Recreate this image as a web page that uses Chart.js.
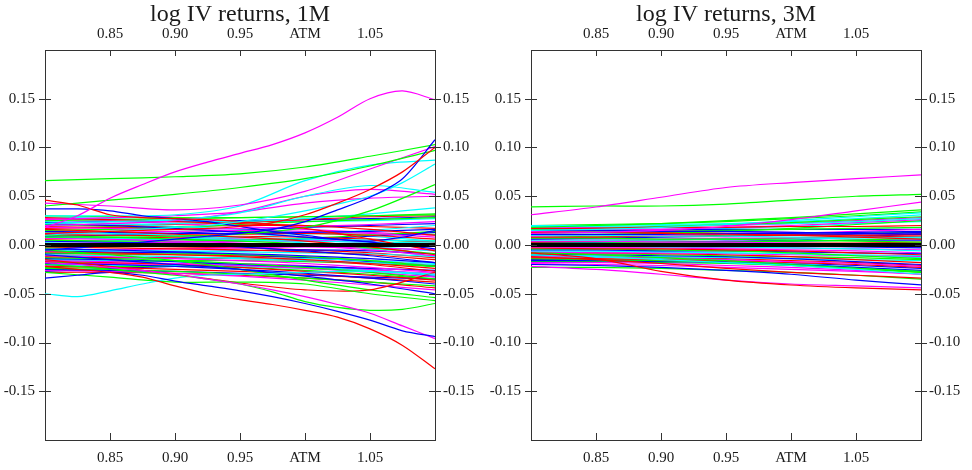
<!DOCTYPE html>
<html>
<head>
<meta charset="utf-8">
<script src="https://cdn.jsdelivr.net/npm/chart.js@4.4.1/dist/chart.umd.min.js"></script>
<style>
  html, body { margin: 0; padding: 0; background: #ffffff; }
  #wrap { display: flex; width: 972px; height: 470px; }
  canvas { display: block; }
</style>
</head>
<body>
<div id="wrap">
  <canvas id="c1" width="486" height="470"></canvas>
  <canvas id="c2" width="486" height="470"></canvas>
</div>
<script>
// ---------- data ----------
const moneyness7  = [0.80, 0.85, 0.90, 0.95, 1.00, 1.05, 1.10];
const moneyness13 = [0.800, 0.825, 0.850, 0.875, 0.900, 0.925, 0.950, 0.975, 1.000, 1.025, 1.050, 1.075, 1.100];
const xTickValues = [0.85, 0.90, 0.95, 1.00, 1.05];
const xTickLabels = ['0.85', '0.90', '0.95', 'ATM', '1.05'];
const yTickValues = [-0.15, -0.10, -0.05, 0.00, 0.05, 0.10, 0.15];
const zeroLine = [0, 0, 0, 0, 0, 0, 0];
const titles = ['log IV returns, 1M', 'log IV returns, 3M'];

// 1M log IV returns per moneyness (13-point series use moneyness13, 7-point use moneyness7)
const returns1M = [
  [0.018, 0.030, 0.048, 0.062, 0.075, 0.085, 0.094, 0.103, 0.115, 0.131, 0.150, 0.158, 0.149],
  [0.012, 0.013, 0.014, 0.015, 0.016, 0.017, 0.019, 0.023, 0.031, 0.043, 0.057, 0.075, 0.100],
  [-0.005, -0.003, 0.000, 0.003, 0.006, 0.009, 0.012, 0.016, 0.024, 0.036, 0.049, 0.068, 0.108],
  [0.010, 0.012, 0.014, 0.016, 0.018, 0.020, 0.024, 0.029, 0.035, 0.042, 0.050, 0.064, 0.083],
  [0.046, 0.041, 0.031, 0.028, 0.027, 0.026, 0.024, 0.021, 0.017, 0.012, 0.006, 0.000, -0.006],
  [0.037, 0.037, 0.035, 0.030, 0.027, 0.024, 0.019, 0.014, 0.010, 0.006, 0.004, 0.008, 0.015],
  [-0.022, -0.025, -0.028, -0.033, -0.042, -0.050, -0.056, -0.061, -0.067, -0.074, -0.086, -0.103, -0.127],
  [-0.034, -0.031, -0.028, -0.031, -0.037, -0.042, -0.047, -0.053, -0.060, -0.068, -0.077, -0.088, -0.094],
  [-0.018, -0.020, -0.023, -0.026, -0.030, -0.035, -0.040, -0.046, -0.053, -0.061, -0.070, -0.083, -0.096],
  [-0.020, -0.022, -0.025, -0.028, -0.031, -0.035, -0.040, -0.048, -0.058, -0.064, -0.067, -0.066, -0.060],
  [-0.050, -0.053, -0.047, -0.040, -0.034, -0.031, -0.030, -0.029, -0.028, -0.027, -0.027, -0.028, -0.030],
  [0.066, 0.068, 0.070, 0.073, 0.080, 0.091, 0.103],
  [0.040, 0.046, 0.052, 0.059, 0.068, 0.081, 0.097],
  [0.043, 0.040, 0.036, 0.041, 0.055, 0.078, 0.101],
  [0.030, 0.030, 0.031, 0.040, 0.066, 0.082, 0.087],
  [0.022, 0.024, 0.026, 0.033, 0.050, 0.061, 0.054],
  [0.008, 0.008, 0.009, 0.011, 0.018, 0.035, 0.062],
  [0.026, 0.028, 0.030, 0.034, 0.043, 0.048, 0.050],
  [0.020, 0.022, 0.025, 0.034, 0.050, 0.057, 0.052],
  [-0.028, -0.033, -0.038, -0.038, -0.040, -0.050, -0.057],
  [-0.015, -0.022, -0.030, -0.039, -0.046, -0.046, -0.028],
  [-0.010, -0.015, -0.020, -0.025, -0.032, -0.040, -0.050],
  [-0.005, -0.010, -0.016, -0.025, -0.036, -0.046, -0.054],
  [0.028, 0.026, 0.024, 0.022, 0.020, 0.016, 0.010],
  [0.025, 0.026, 0.027, 0.028, 0.029, 0.030, 0.031],
  [0.022, 0.020, 0.017, 0.013, 0.008, 0.003, -0.004],
  [0.020, 0.021, 0.022, 0.024, 0.027, 0.032, 0.038],
  [0.018, 0.017, 0.016, 0.017, 0.019, 0.021, 0.024],
  [0.016, 0.014, 0.011, 0.008, 0.004, -0.002, -0.010],
  [0.015, 0.016, 0.018, 0.021, 0.024, 0.026, 0.028],
  [0.014, 0.013, 0.012, 0.012, 0.013, 0.014, 0.016],
  [0.013, 0.012, 0.010, 0.008, 0.006, 0.005, 0.004],
  [0.012, 0.013, 0.014, 0.015, 0.014, 0.012, 0.008],
  [0.011, 0.010, 0.010, 0.011, 0.012, 0.010, 0.006],
  [0.010, 0.008, 0.006, 0.004, 0.001, -0.003, -0.009],
  [0.009, 0.010, 0.012, 0.015, 0.018, 0.020, 0.022],
  [0.008, 0.007, 0.006, 0.005, 0.004, 0.003, 0.002],
  [0.007, 0.006, 0.004, 0.002, -0.001, -0.005, -0.011],
  [0.006, 0.007, 0.008, 0.009, 0.008, 0.006, 0.003],
  [0.005, 0.004, 0.004, 0.005, 0.007, 0.010, 0.014],
  [0.004, 0.003, 0.001, -0.002, -0.006, -0.011, -0.018],
  [0.003, 0.004, 0.006, 0.008, 0.011, 0.015, 0.020],
  [0.002, 0.002, 0.003, 0.004, 0.004, 0.003, 0.001],
  [-0.002, -0.003, -0.004, -0.005, -0.007, -0.010, -0.015],
  [-0.003, -0.002, -0.001, 0.000, 0.001, 0.002, 0.004],
  [-0.004, -0.005, -0.007, -0.009, -0.011, -0.014, -0.018],
  [-0.005, -0.006, -0.006, -0.007, -0.008, -0.009, -0.012],
  [-0.006, -0.005, -0.004, -0.003, -0.002, -0.003, -0.005],
  [-0.007, -0.008, -0.010, -0.012, -0.015, -0.019, -0.024],
  [-0.008, -0.009, -0.009, -0.010, -0.012, -0.016, -0.022],
  [-0.009, -0.008, -0.007, -0.006, -0.005, -0.006, -0.009],
  [-0.010, -0.011, -0.012, -0.014, -0.016, -0.018, -0.020],
  [-0.011, -0.012, -0.014, -0.016, -0.019, -0.023, -0.028],
  [-0.012, -0.013, -0.013, -0.014, -0.016, -0.020, -0.027],
  [-0.013, -0.014, -0.016, -0.019, -0.023, -0.028, -0.035],
  [-0.014, -0.015, -0.017, -0.020, -0.022, -0.024, -0.026],
  [-0.015, -0.014, -0.013, -0.013, -0.014, -0.016, -0.019],
  [-0.016, -0.017, -0.019, -0.021, -0.024, -0.028, -0.033],
  [-0.017, -0.018, -0.020, -0.023, -0.027, -0.031, -0.036],
  [-0.018, -0.017, -0.016, -0.016, -0.017, -0.019, -0.022],
  [-0.019, -0.020, -0.022, -0.025, -0.029, -0.034, -0.040],
  [-0.020, -0.021, -0.021, -0.022, -0.024, -0.027, -0.031],
  [-0.021, -0.020, -0.019, -0.019, -0.021, -0.025, -0.031],
  [-0.022, -0.023, -0.025, -0.027, -0.030, -0.034, -0.038],
  [-0.024, -0.025, -0.027, -0.030, -0.034, -0.038, -0.042],
  [-0.025, -0.026, -0.027, -0.029, -0.031, -0.033, -0.035],
  [-0.026, -0.027, -0.029, -0.032, -0.036, -0.041, -0.046],
  [0.000, -0.001, -0.002, -0.003, -0.005, -0.008, -0.013],
  [0.001, 0.002, 0.003, 0.004, 0.006, 0.009, 0.013],
  [0.024, 0.022, 0.019, 0.016, 0.013, 0.009, 0.004],
  [0.027, 0.025, 0.022, 0.019, 0.016, 0.013, 0.010],
  [0.019, 0.020, 0.021, 0.023, 0.026, 0.029, 0.030],
  [0.030, 0.029, 0.028, 0.028, 0.029, 0.030, 0.032],
  [0.029, 0.027, 0.025, 0.024, 0.024, 0.025, 0.027],
  [0.017, 0.018, 0.019, 0.020, 0.020, 0.019, 0.017],
  [0.021, 0.019, 0.016, 0.014, 0.012, 0.011, 0.011],
  [0.004, 0.005, 0.006, 0.006, 0.005, 0.003, -0.001],
  [-0.001, 0.000, 0.001, 0.001, 0.000, -0.002, -0.006],
  [-0.006, -0.007, -0.008, -0.010, -0.013, -0.017, -0.022],
  [-0.011, -0.010, -0.010, -0.011, -0.013, -0.016, -0.021],
  [-0.016, -0.016, -0.017, -0.019, -0.022, -0.026, -0.030],
  [-0.023, -0.022, -0.022, -0.023, -0.026, -0.030, -0.035],
  [-0.028, -0.028, -0.029, -0.031, -0.034, -0.038, -0.044],
  [0.023, 0.024, 0.024, 0.025, 0.026, 0.027, 0.029],
  [0.012, 0.011, 0.009, 0.006, 0.002, -0.004, -0.012],
  [-0.019, -0.019, -0.020, -0.021, -0.023, -0.026, -0.029],
  [-0.027, -0.024, -0.022, -0.021, -0.022, -0.025, -0.032]
];
const colors1M = [
  'm','r','b','c','r','b','r','b','m','g','c',
  'g','g','m','c','c','g','m','m','g','r','b','g',
  'r','g','b','c','m','r','g','b','c','m','r','g','b','c','m','r','g','b','c','m',
  'r','g','b','c','m','r','g','b','c','m','r','g','b','c','m','r','g','b','c','m',
  'r','g','b','m','r','b','c','m','r','g',
  'c','r','g','m','c','b','r','c','g','r','b','c','m','b'
];

// 3M log IV returns per moneyness (moneyness7)
const returns3M = [
  [0.031, 0.039, 0.049, 0.059, 0.064, 0.068, 0.072],
  [0.039, 0.040, 0.040, 0.042, 0.046, 0.050, 0.052],
  [0.012, 0.013, 0.015, 0.019, 0.026, 0.035, 0.044],
  [0.018, 0.020, 0.022, 0.025, 0.028, 0.032, 0.036],
  [0.015, 0.016, 0.018, 0.021, 0.025, 0.029, 0.033],
  [-0.008, -0.014, -0.027, -0.036, -0.041, -0.044, -0.046],
  [-0.022, -0.025, -0.030, -0.036, -0.040, -0.042, -0.044],
  [-0.020, -0.021, -0.023, -0.026, -0.030, -0.036, -0.041],
  [-0.012, -0.015, -0.019, -0.024, -0.028, -0.031, -0.034],
  [-0.010, -0.012, -0.015, -0.018, -0.021, -0.025, -0.030],
  [-0.008, -0.010, -0.013, -0.016, -0.020, -0.024, -0.028],
  [0.017, 0.017, 0.018, 0.018, 0.019, 0.019, 0.020],
  [0.016, 0.017, 0.019, 0.021, 0.023, 0.026, 0.029],
  [0.015, 0.015, 0.014, 0.014, 0.013, 0.012, 0.011],
  [0.019, 0.019, 0.020, 0.021, 0.022, 0.024, 0.027],
  [0.014, 0.015, 0.016, 0.018, 0.020, 0.023, 0.026],
  [0.013, 0.013, 0.012, 0.011, 0.010, 0.008, 0.006],
  [0.012, 0.013, 0.014, 0.015, 0.016, 0.017, 0.018],
  [0.011, 0.011, 0.011, 0.012, 0.012, 0.013, 0.014],
  [0.010, 0.010, 0.009, 0.009, 0.008, 0.008, 0.007],
  [0.009, 0.010, 0.010, 0.011, 0.012, 0.014, 0.016],
  [0.008, 0.008, 0.009, 0.009, 0.010, 0.010, 0.011],
  [0.007, 0.007, 0.006, 0.006, 0.005, 0.004, 0.003],
  [0.006, 0.007, 0.008, 0.009, 0.010, 0.011, 0.013],
  [0.005, 0.005, 0.005, 0.006, 0.006, 0.007, 0.008],
  [0.004, 0.004, 0.003, 0.003, 0.002, 0.001, 0.000],
  [0.003, 0.004, 0.005, 0.006, 0.007, 0.008, 0.009],
  [0.002, 0.002, 0.003, 0.003, 0.004, 0.005, 0.007],
  [0.001, 0.001, 0.000, 0.000, -0.001, -0.002, -0.003],
  [-0.001, -0.001, -0.002, -0.002, -0.003, -0.004, -0.006],
  [-0.002, -0.002, -0.002, -0.003, -0.003, -0.004, -0.005],
  [-0.003, -0.004, -0.004, -0.005, -0.006, -0.008, -0.010],
  [-0.004, -0.004, -0.005, -0.006, -0.008, -0.011, -0.014],
  [-0.005, -0.005, -0.006, -0.006, -0.007, -0.008, -0.009],
  [-0.006, -0.006, -0.007, -0.008, -0.009, -0.011, -0.013],
  [-0.007, -0.008, -0.008, -0.009, -0.010, -0.011, -0.012],
  [-0.008, -0.008, -0.009, -0.010, -0.012, -0.015, -0.018],
  [-0.009, -0.009, -0.010, -0.011, -0.012, -0.013, -0.015],
  [-0.010, -0.010, -0.011, -0.012, -0.014, -0.017, -0.020],
  [-0.011, -0.011, -0.012, -0.013, -0.014, -0.015, -0.016],
  [-0.012, -0.012, -0.013, -0.015, -0.017, -0.019, -0.022],
  [-0.013, -0.014, -0.015, -0.016, -0.018, -0.020, -0.023],
  [-0.014, -0.015, -0.016, -0.018, -0.021, -0.024, -0.027],
  [-0.016, -0.016, -0.017, -0.018, -0.020, -0.023, -0.026],
  [-0.018, -0.018, -0.019, -0.021, -0.023, -0.026, -0.030],
  [0.000, 0.000, 0.001, 0.001, 0.002, 0.002, 0.003],
  [0.002, 0.002, 0.001, 0.001, 0.000, -0.001, -0.002],
  [0.020, 0.020, 0.021, 0.022, 0.024, 0.027, 0.031],
  [0.017, 0.016, 0.015, 0.014, 0.013, 0.012, 0.011],
  [0.010, 0.011, 0.012, 0.014, 0.017, 0.021, 0.025],
  [-0.001, 0.000, 0.001, 0.003, 0.005, 0.008, 0.012],
  [0.014, 0.013, 0.013, 0.012, 0.011, 0.010, 0.009],
  [-0.013, -0.013, -0.014, -0.016, -0.019, -0.023, -0.027],
  [-0.017, -0.017, -0.018, -0.019, -0.021, -0.024, -0.028],
  [0.006, 0.006, 0.006, 0.007, 0.007, 0.008, 0.009],
  [0.016, 0.016, 0.016, 0.016, 0.016, 0.016, 0.016],
  [0.018, 0.018, 0.019, 0.020, 0.022, 0.025, 0.028],
  [0.013, 0.014, 0.015, 0.017, 0.019, 0.022, 0.024],
  [0.008, 0.009, 0.009, 0.010, 0.011, 0.012, 0.013],
  [0.003, 0.003, 0.003, 0.004, 0.004, 0.005, 0.005],
  [-0.003, -0.003, -0.003, -0.004, -0.005, -0.006, -0.008],
  [-0.007, -0.007, -0.007, -0.008, -0.009, -0.010, -0.011],
  [-0.011, -0.012, -0.013, -0.014, -0.016, -0.018, -0.021],
  [-0.015, -0.015, -0.016, -0.017, -0.019, -0.021, -0.024],
  [-0.019, -0.020, -0.021, -0.023, -0.025, -0.027, -0.030],
  [-0.023, -0.023, -0.024, -0.026, -0.028, -0.031, -0.035],
  [0.020, 0.021, 0.022, 0.024, 0.027, 0.030, 0.034]
];
const colors3M = [
  'm','g','m','g','c','r','m','b','r','c','g',
  'r','g','b','c','m','r','g','b','c','m','r','g','b','c','m','r','g','b','c','m',
  'r','g','b','c','m','r','g','b','c','m','r','g','b','m',
  'r','b','c','m','g','b','r','c','g','m','b',
  'm','c','g','b','m','c','r','b','m','g','g'
];

// ---------- styling ----------
const palette = { r: '#ff0000', g: '#00ff00', b: '#0000ff', c: '#00ffff', m: '#ff00ff' };
const FONT = "'Liberation Serif', 'Times New Roman', serif";
const AXIS_COLOR = '#333333';
const TEXT_COLOR = '#1a1a1a';

const tickMarks = {
  id: 'tickMarks',
  afterDraw(chart) {
    const ctx = chart.ctx;
    const xs = chart.scales.x, ys = chart.scales.y;
    const a = chart.chartArea;
    ctx.save();
    ctx.strokeStyle = AXIS_COLOR;
    ctx.lineWidth = 1;
    ctx.beginPath();
    xs.ticks.forEach(t => {
      const px = Math.round(xs.getPixelForValue(t.value)) + 0.5;
      ctx.moveTo(px, a.top); ctx.lineTo(px, a.top + 6);
      ctx.moveTo(px, a.bottom); ctx.lineTo(px, a.bottom - 7);
    });
    ys.ticks.forEach(t => {
      const py = Math.round(ys.getPixelForValue(t.value)) + 0.5;
      ctx.moveTo(a.left - 6, py); ctx.lineTo(a.left + 6, py);
      ctx.moveTo(a.right - 6, py); ctx.lineTo(a.right + 6, py);
    });
    ctx.stroke();
    ctx.restore();
  }
};

function xAxis(position, height, padding) {
  return {
    type: 'linear', position, min: 0.80, max: 1.10,
    grid: { display: false, drawTicks: false },
    border: { display: true, color: AXIS_COLOR, width: 1 },
    afterBuildTicks: s => { s.ticks = xTickValues.map(v => ({ value: v })); },
    afterFit: s => { s.height = height; },
    ticks: {
      autoSkip: false, maxRotation: 0, padding,
      font: { family: FONT, size: 15, lineHeight: 1 }, color: TEXT_COLOR,
      callback: v => { const i = xTickValues.findIndex(t => Math.abs(t - v) < 1e-9); return i >= 0 ? xTickLabels[i] : ''; }
    }
  };
}
function yAxis(position, width, padding) {
  return {
    type: 'linear', position, min: -0.20, max: 0.20,
    grid: { display: false, drawTicks: false },
    border: { display: true, color: AXIS_COLOR, width: 1 },
    afterBuildTicks: s => { s.ticks = yTickValues.map(v => ({ value: v })); },
    afterFit: s => { s.width = width; },
    ticks: {
      autoSkip: false, padding,
      font: { family: FONT, size: 15, lineHeight: 1 }, color: TEXT_COLOR,
      callback: v => Number(v).toFixed(2)
    }
  };
}

function makeChart(id, title, series, colors) {
  const datasets = [{
    data: zeroLine.map((y, i) => ({ x: moneyness7[i], y })),
    borderColor: '#000000', borderWidth: 4, order: -1, tension: 0
  }];
  series.forEach((vals, k) => {
    const xs = vals.length === 13 ? moneyness13 : moneyness7;
    datasets.push({
      data: vals.map((y, i) => ({ x: xs[i], y })),
      borderColor: palette[colors[k]], borderWidth: 1.2, tension: 0.3
    });
  });
  return new Chart(document.getElementById(id), {
    type: 'line',
    data: { datasets },
    plugins: [tickMarks],
    options: {
      responsive: false, animation: false, devicePixelRatio: 1,
      layout: { padding: 0 },
      elements: { point: { radius: 0 }, line: { fill: false } },
      plugins: {
        legend: { display: false }, tooltip: { enabled: false },
        title: {
          display: true, text: title, fullSize: false, color: TEXT_COLOR,
          font: { family: FONT, size: 24, weight: 'normal', lineHeight: 1 },
          padding: { top: 3, bottom: 0 }
        }
      },
      scales: {
        x: xAxis('bottom', 30, 11),
        x2: xAxis('top', 23, 8),
        y: yAxis('left', 45, 10),
        y2: yAxis('right', 51, 8)
      }
    }
  });
}

makeChart('c1', titles[0], returns1M, colors1M);
makeChart('c2', titles[1], returns3M, colors3M);
</script>
</body>
</html>
